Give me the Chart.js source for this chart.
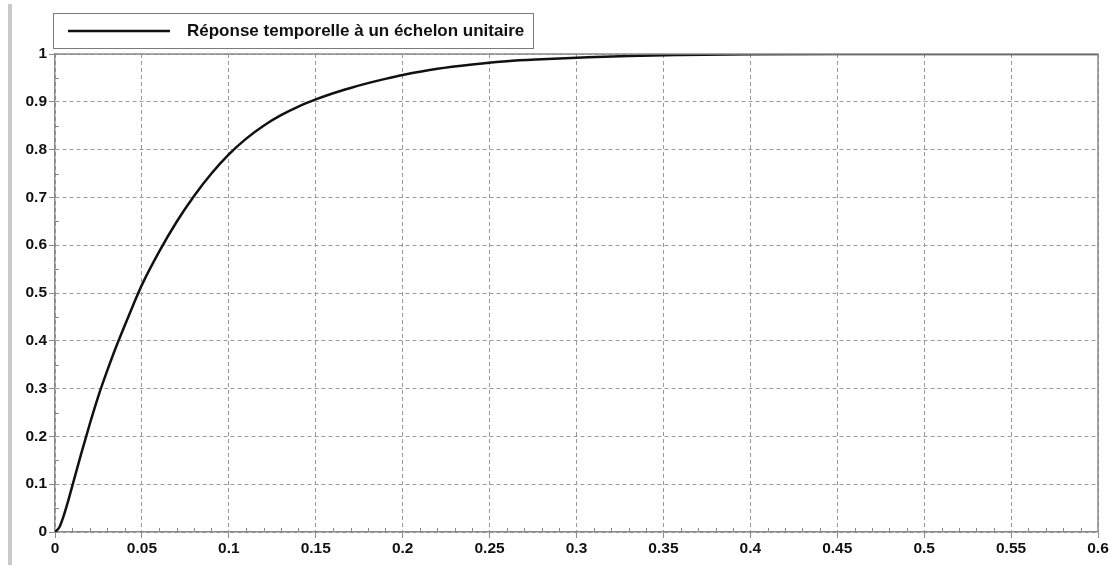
<!DOCTYPE html>
<html>
<head>
<meta charset="utf-8">
<script src="https://cdn.jsdelivr.net/npm/chart.js@4"></script>
<style>
  html, body { margin: 0; padding: 0; background: #fff; }
  #wrap { width: 1117px; height: 565px; position: relative; }
</style>
</head>
<body>
<div id="wrap"><canvas id="stepChart" width="1117" height="565"></canvas></div>
<script>
// temps (s) et réponse
const temps = [0, 0.0025, 0.005, 0.0075, 0.01, 0.015, 0.02, 0.025, 0.03, 0.035, 0.04, 0.045, 0.05,
  0.06, 0.07, 0.08, 0.09, 0.1, 0.11, 0.12, 0.13, 0.14, 0.15, 0.16, 0.17, 0.18, 0.19, 0.2,
  0.22, 0.24, 0.26, 0.28, 0.3, 0.33, 0.36, 0.4, 0.45, 0.5, 0.55, 0.6];
const reponse = [0, 0.01, 0.034, 0.064, 0.097, 0.163, 0.226, 0.285, 0.337, 0.386, 0.431, 0.475, 0.517,
  0.587, 0.649, 0.703, 0.750, 0.790, 0.823, 0.850, 0.872, 0.890, 0.905, 0.918, 0.929, 0.939, 0.948, 0.956,
  0.969, 0.978, 0.985, 0.989, 0.992, 0.996, 0.998, 0.9995, 1, 1, 1, 1];
const xTicks = [0, 0.05, 0.1, 0.15, 0.2, 0.25, 0.3, 0.35, 0.4, 0.45, 0.5, 0.55, 0.6];
const yTicks = [0, 0.1, 0.2, 0.3, 0.4, 0.5, 0.6, 0.7, 0.8, 0.9, 1];
const legende = 'Réponse temporelle à un échelon unitaire';

const ctx = document.getElementById('stepChart');
const axisGray = '#8a8a8a';
const gridGray = '#9a9a9a';
const tickFont = { family: 'Liberation Sans, Arial, sans-serif', size: 15.5, weight: 'bold' };

// cadre, petites graduations, légende encadrée, barre grise à gauche
const decor = {
  id: 'decor',
  beforeDraw(chart) {
    const c = chart.ctx;
    c.save();
    c.fillStyle = '#c9c9c9';
    c.fillRect(8, 4, 4, 561);
    c.restore();
  },
  afterDraw(chart) {
    const c = chart.ctx;
    const a = chart.chartArea;
    const xs = chart.scales.x, ys = chart.scales.y;
    c.save();
    c.strokeStyle = axisGray;
    c.lineWidth = 1.5;
    c.beginPath();
    c.moveTo(a.left, a.top); c.lineTo(a.right, a.top); c.lineTo(a.right, a.bottom);
    c.stroke();
    // minor ticks
    c.lineWidth = 1;
    c.beginPath();
    for (let i = 1; i < 60; i++) {
      if (i % 5 === 0) continue;
      const px = Math.round(xs.getPixelForValue(i / 100)) + 0.5;
      c.moveTo(px, a.bottom); c.lineTo(px, a.bottom - 4);
    }
    for (let i = 1; i < 20; i += 2) {
      const py = Math.round(ys.getPixelForValue(i / 20)) + 0.5;
      c.moveTo(a.left, py); c.lineTo(a.left + 4, py);
    }
    c.stroke();
    // legend
    c.strokeStyle = '#7a7a7a';
    c.lineWidth = 1;
    c.fillStyle = '#fff';
    c.fillRect(53.5, 13.5, 480, 35);
    c.strokeRect(53.5, 13.5, 480, 35);
    c.strokeStyle = '#111';
    c.lineWidth = 2.5;
    c.beginPath();
    c.moveTo(68, 31); c.lineTo(170, 31);
    c.stroke();
    c.fillStyle = '#111';
    c.font = 'bold 17px "Liberation Sans", Arial, sans-serif';
    c.textBaseline = 'middle';
    c.textAlign = 'left';
    c.fillText(chart.data.datasets[0].label, 187, 31);
    c.restore();
  }
};

new Chart(ctx, {
  type: 'line',
  data: {
    datasets: [{
      label: legende,
      data: temps.map((t, i) => ({ x: t, y: reponse[i] })),
      borderColor: '#111',
      borderWidth: 2.5,
      pointRadius: 0,
      cubicInterpolationMode: 'monotone',
      fill: false
    }]
  },
  options: {
    responsive: false,
    animation: false,
    layout: { padding: { left: 10, top: 54, right: 19, bottom: 0 } },
    plugins: { legend: { display: false }, tooltip: { enabled: false } },
    scales: {
      x: {
        type: 'linear',
        min: 0, max: 0.6,
        afterFit(s) { s.height = 33; },
        afterBuildTicks(s) { s.ticks = xTicks.map(v => ({ value: v })); },
        ticks: {
          color: '#111',
          font: tickFont,
          padding: 1,
          maxRotation: 0,
          autoSkip: false,
          callback: v => String(v)
        },
        grid: {
          color: gridGray,
          lineWidth: 1,
          tickLength: 6,
          tickColor: axisGray
        },
        border: { color: axisGray, width: 1.5, dash: [4, 3] }
      },
      y: {
        min: 0, max: 1,
        afterFit(s) { s.width = 45; },
        afterBuildTicks(s) { s.ticks = yTicks.map(v => ({ value: v })); },
        ticks: {
          color: '#111',
          font: tickFont,
          padding: 2,
          autoSkip: false,
          callback: v => String(v)
        },
        grid: {
          color: gridGray,
          lineWidth: 1,
          tickLength: 6,
          tickColor: axisGray
        },
        border: { color: axisGray, width: 1.5, dash: [4, 3] }
      }
    }
  },
  plugins: [decor]
});
</script>
</body>
</html>
